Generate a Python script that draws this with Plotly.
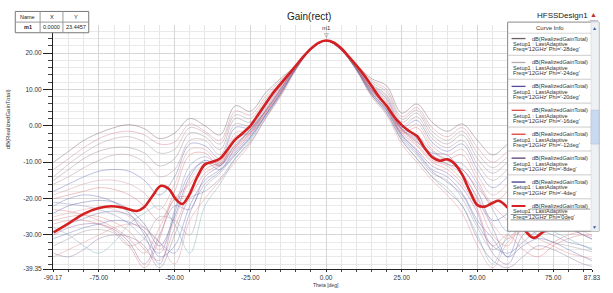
import plotly.graph_objects as go

# ---------------- data ----------------
theta = [-90, -85, -80, -75, -70, -65, -60, -55, -50, -45, -40, -35, -30, -25, -20, -15, -10, -5, 0,
         5, 10, 15, 20, 25, 30, 35, 40, 45, 50, 55, 60, 65, 70, 75, 80, 85, 90]

# highlighted curve Phi = 0deg
red_theta = [-90, -85, -80, -75, -71, -67, -62.5, -60, -57.5, -54.5, -52, -49.5, -47.5, -45.5, -42.5, -40,
             -37.5, -35, -32.5, -30, -27.5, -25, -22.5, -20, -17.5, -15, -12.5, -10, -7.5, -5, -2.5, 0,
             2.5, 5, 7.5, 10, 12.5, 15, 17.5, 20, 22.5, 25, 27.5, 30, 32.5, 35, 37.5, 40, 42.5, 45, 47.5,
             50, 52.5, 55, 57, 60, 62.5, 65, 68.5, 72, 80, 87.83]
red_gain = [-29.3, -26.8, -24.2, -22.6, -22.1, -22.5, -23.4, -22.3, -19.5, -16.5, -17.3, -20.3, -21.5, -19.5,
            -14.0, -10.6, -9.9, -9.0, -6.5, -3.8, -2.0, 0.0, 3.0, 6.0, 9.0, 11.5, 14.0, 16.5, 19.0, 21.2,
            22.8, 23.45, 22.9, 21.3, 19.0, 16.6, 14.0, 11.0, 8.0, 5.5, 2.5, 0.2, -1.5, -2.8, -6.0, -8.6,
            -9.6, -9.2, -10.5, -13.5, -18.0, -21.8, -22.2, -21.2, -20.6, -22.5, -25.0, -28.0, -30.8, -29.0,
            -26.0, -25.0]

bg_01 = [-10, -7, -4, -2, -0.5, 0.3, -0.8, -3.5, -2, 2, 0, -2.5, 5.5, 4, 9, 13, 16.5, 21, 23.4, 21.3, 16.8, 13, 11, 3.5, 6, 1, -1.5, 0.5, -4, -8, -5, -2, -1, -2, -3, -5, -7]
bg_02 = [-12, -9, -6, -3.5, -2, -1.5, -2.5, -5, -4.5, 0.5, -1.5, -4, 4, 3, 8, 12.5, 16.3, 21, 23.4, 21.2, 16.5, 12.5, 10, 2.5, 5, -0.5, -3, -0.5, -6, -10, -7, -4, -3, -4, -5, -7, -9]
bg_03 = [-15, -12, -9, -7, -6, -6, -7.5, -11, -9, -2, -3, -6.5, 2, 1, 6.5, 11.5, 16, 21, 23.4, 21.1, 16.3, 11.5, 8.5, 1, 3.5, -2.5, -5, -2.5, -9, -13, -10, -7, -6, -7, -8, -10, -12]
bg_04 = [-18, -16, -14, -12.5, -12, -12.5, -15, -19, -14, -5, -5.5, -9, -0.5, -0.5, 5.5, 11, 16, 21, 23.4, 21.1, 16.2, 11, 7.5, -0.5, 1.5, -4.5, -7, -5, -12, -17, -14, -10, -9, -10, -11, -13, -15]
bg_05 = [-20, -19, -18, -17, -17.5, -19, -22, -26, -18, -8, -7.5, -11, -3, -2, 4.5, 10.5, 16, 21, 23.4, 21, 16, 10.5, 6.5, -2, -0.5, -6.5, -9, -8, -15, -21, -18, -13, -12, -13, -14, -16, -18]
bg_06 = [-24, -22, -21, -20.5, -21, -23, -27, -33, -25, -14, -9.5, -11, -5, -1.5, 4, 10, 16, 21, 23.4, 21, 15.8, 10, 5.5, -1, -3.5, -8, -10.5, -12, -18, -26, -24, -19, -17, -18, -20, -22, -24]
bg_07 = [-26, -25, -24.5, -25, -26.5, -29, -34, -37, -28, -18, -12, -10, -6, -2, 3.5, 9.5, 15.8, 21, 23.4, 21, 15.7, 9.5, 5, -1.5, -5, -9.5, -11, -15, -21, -30, -33, -25, -22, -23, -25, -27, -29]
bg_08 = [-30, -28, -27, -27, -28.5, -32, -38, -30, -22, -23, -14, -11, -7, -2.5, 3, 9, 15.7, 21, 23.4, 20.9, 15.6, 9, 4.5, -2.5, -6.5, -11, -13, -17, -24, -35, -38, -30, -27, -27, -28, -30, -32]
bg_09 = [-33, -31, -29, -28.5, -29.5, -33, -31, -25, -26, -30, -17, -13, -8, -3.5, 2.5, 8.5, 15.5, 21, 23.4, 20.8, 15.5, 8.5, 4, -3.5, -8, -13, -15, -20, -28, -34, -31, -28, -30, -32, -33, -34, -35]
bg_10 = [-36, -34, -32, -30, -28, -27, -28, -32, -38, -26, -20, -15, -10, -5, 2, 8, 15.3, 20.9, 23.4, 20.8, 15.3, 8, 3, -5, -10, -15, -19, -24, -33, -39, -32, -29, -31, -33, -35, -36, -37]
bg_11 = [-22, -20, -19, -19.5, -21, -24, -30, -38, -24, -13, -10, -12, -6, -1, 4, 10, 16, 21, 23.4, 21, 15.9, 9.8, 5.5, -1, -4.5, -7.5, -8, -13, -20, -28, -36, -27, -25, -26, -28, -30, -32]
bg_12 = [-16, -14, -11.5, -9.5, -8, -8, -10, -14, -12, -4, -4, -8, 0.5, 0, 6, 11.3, 16.2, 21, 23.4, 21.1, 16.2, 11.3, 8, 0, 2.5, -3.5, -6, -4, -10.5, -15, -12, -8.5, -7.5, -8.5, -9.5, -11.5, -13.5]
bg_13 = [-28, -30, -33, -35, -32, -27, -24, -22, -27, -35, -22, -16, -9, -4, 2.8, 8.8, 15.5, 21, 23.4, 20.8, 15.4, 8.5, 3.5, -4, -9, -14, -17, -22, -30, -38, -30, -26, -27, -29, -31, -33, -34]
bg_14 = [-23, -23.5, -24.5, -26, -28, -31, -35, -28, -20, -16, -11, -9.5, -5.5, -1, 4, 10, 16, 21, 23.4, 21, 16, 10, 5, -1, -4, -8.5, -9.5, -12, -17, -22, -26, -31, -34, -32, -30, -29, -29]
bg_15 = [-31, -29.5, -28, -27, -26, -26.5, -29, -36, -33, -22, -15, -12, -7.5, -3, 3, 9.2, 15.8, 21, 23.4, 21, 15.7, 9.2, 4.5, -2.5, -7, -12, -14, -18.5, -26, -31, -36, -33, -31, -32, -34, -36, -38]
bg_16 = [-19, -17.5, -16, -15, -15, -16, -18.5, -23, -16, -6.5, -6.5, -10, -2, -1, 5, 10.8, 16, 21, 23.4, 21, 16, 10.8, 7, -1.5, 0.5, -5.5, -8, -6.5, -13.5, -19, -16, -12, -11, -12, -13, -15, -17]
bg_17 = [-35, -36, -34, -31, -30, -30.5, -33, -39, -30, -20, -18, -14.5, -9, -4.5, 2, 8.5, 15.5, 20.9, 23.4, 20.8, 15.4, 8.5, 3.5, -4, -9, -14, -18, -22, -31, -37, -39, -36, -33, -34, -36, -38, -39]
bg_18 = [-27, -26, -26, -27, -29, -33, -39, -31, -20, -19, -13, -10.5, -6.5, -2, 3.5, 9.5, 15.8, 21, 23.4, 21, 15.8, 9.7, 5, -2, -5.5, -10, -12, -16, -23, -33, -30, -34, -36, -33, -31, -30, -31]
bg_19 = [-21, -21.5, -22, -23, -24.5, -27, -31, -35, -23, -11, -8.5, -10.5, -4, -1.2, 4.2, 10.2, 16, 21, 23.4, 21, 15.9, 10, 5.8, -0.8, -2.5, -7, -9.5, -10.5, -16, -23, -29, -24, -21, -22, -24, -26, -28]
bg_20 = [-25, -24, -23, -22.5, -23, -25, -29, -34, -26, -15, -10.5, -10.5, -5.5, -1.8, 3.8, 9.8, 15.9, 21, 23.4, 21, 15.8, 9.8, 5.2, -1.2, -4.2, -9, -10.5, -13.5, -19.5, -27, -31, -27, -24, -25, -27, -29, -31]
bg_21 = [-29, -27, -25.5, -24, -23.5, -24.5, -28, -32, -35, -24, -16, -12.5, -8, -3.2, 2.8, 9, 15.7, 21, 23.4, 20.9, 15.6, 9, 4.2, -3, -7.5, -12.5, -15.5, -19, -27, -33, -35, -32, -29, -30, -32, -33, -35]
bg_22 = [-14, -10.5, -7.5, -5, -3.5, -3, -4.5, -7.5, -6.5, -0.5, -2, -5, 3, 2, 7.2, 12, 16.3, 21, 23.4, 21.2, 16.4, 12, 9.3, 1.8, 4.3, -1.5, -4, -1.5, -7.5, -11.5, -8.5, -5.5, -4.5, -5.5, -6.5, -8.5, -10.5]

bg_curves = [bg_01, bg_02, bg_03, bg_04, bg_05, bg_06, bg_07, bg_08, bg_09, bg_10, bg_11,
             bg_12, bg_13, bg_14, bg_15, bg_16, bg_17, bg_18, bg_19, bg_20, bg_21, bg_22]
bg_colors = ['rgba(125,100,115,0.5)', 'rgba(205,120,130,0.45)', 'rgba(140,125,140,0.45)',
             'rgba(95,100,175,0.45)', 'rgba(215,110,120,0.45)', 'rgba(80,85,160,0.45)',
             'rgba(220,120,125,0.45)', 'rgba(130,90,150,0.45)', 'rgba(150,140,150,0.45)',
             'rgba(225,130,135,0.45)', 'rgba(100,105,180,0.45)', 'rgba(170,130,140,0.45)',
             'rgba(90,160,170,0.4)', 'rgba(215,115,125,0.45)', 'rgba(95,105,180,0.45)',
             'rgba(205,140,150,0.45)', 'rgba(130,110,150,0.45)', 'rgba(220,110,120,0.45)',
             'rgba(110,115,170,0.4)', 'rgba(225,135,140,0.4)', 'rgba(90,95,170,0.4)',
             'rgba(160,135,145,0.45)']

x_tickvals = [-90.17, -75, -50, -25, 0, 25, 50, 75, 87.83]
x_ticktext = ['-90.17', '-75.00', '-50.00', '-25.00', '0.00', '25.00', '50.00', '75.00', '87.83']
y_tickvals = [-39.35, -30, -20, -10, 0, 10, 20]
y_ticktext = ['-39.35', '-30.00', '-20.00', '-10.00', '0.00', '10.00', '20.00']

legend_phis = ['-28', '-24', '-20', '-16', '-12', '-8', '-4', '0']
legend_colors = ['#6e5e62', '#b3abb0', '#5b4a9a', '#e04848', '#e03a3a', '#5a4070', '#3a3f8a', '#d42020']

marker_name = 'm1'
marker_x = 0.0
marker_y = 23.4457

# ---------------- figure ----------------
FONT = 'Liberation Sans, Arial, sans-serif'
L, R, T, B = 53, 596, 25, 277
W, H = 613, 293


def PX(x):
    return (x - L) / (R - L)


def PY(y):
    return (B - y) / (B - T)


fig = go.Figure()
for g, c in zip(bg_curves, bg_colors):
    fig.add_trace(go.Scatter(x=theta, y=g, mode='lines', line=dict(color=c, width=0.9, shape='spline'),
                             hoverinfo='skip'))
fig.add_trace(go.Scatter(x=red_theta, y=red_gain, mode='lines',
                         line=dict(color='#d42020', width=2.6, shape='spline'), hoverinfo='skip'))

ann = []
shapes = []


def text(x, y, s, size=6, color='#222', xanchor='center', yanchor='middle', angle=0):
    ann.append(dict(x=PX(x), y=PY(y), xref='paper', yref='paper', text=s, showarrow=False,
                    font=dict(family=FONT, size=size, color=color), xanchor=xanchor, yanchor=yanchor,
                    textangle=angle))


def rect(x0, y0, x1, y1, fill='white', line='#888', lw=1):
    shapes.append(dict(type='rect', xref='paper', yref='paper', x0=PX(x0), x1=PX(x1), y0=PY(y0), y1=PY(y1),
                       fillcolor=fill, line=dict(color=line, width=lw), layer='above'))


def hline(x0, x1, y, color='#999', lw=1):
    shapes.append(dict(type='line', xref='paper', yref='paper', x0=PX(x0), x1=PX(x1), y0=PY(y), y1=PY(y),
                       line=dict(color=color, width=lw), layer='above'))


def vline(x, y0, y1, color='#999', lw=1):
    shapes.append(dict(type='line', xref='paper', yref='paper', x0=PX(x), x1=PX(x), y0=PY(y0), y1=PY(y1),
                       line=dict(color=color, width=lw), layer='above'))


# marker m1
ann.append(dict(x=marker_x, y=marker_y, xref='x', yref='y', text='▽', showarrow=False, yshift=6,
                font=dict(family='DejaVu Sans', size=6, color='#555')))
ann.append(dict(x=marker_x, y=marker_y, xref='x', yref='y', text=marker_name, showarrow=False, yshift=12,
                font=dict(family=FONT, size=6, color='#333')))

# title & labels
text(311, 16, 'Gain(rect)', size=10, color='#222')
text(566, 15, 'HFSSDesign1', size=8, color='#222')
text(598, 14, '▲', size=7, color='#c03030')
text(598, 20, 'ANSOFT', size=2.5, color='#666')
text(8, 122, 'dB(RealizedGainTotal)', size=6, color='#333', angle=-90)
text(328, 288.5, 'Theta [deg]', size=5, color='#333', yanchor='top')

# marker table
rect(15, 11, 89, 33, fill='white', line='#777')
hline(15, 89, 22, color='#999')
vline(40, 11, 33, color='#999')
vline(63, 11, 33, color='#999')
text(27.5, 16.5, 'Name', size=5.5)
text(51.5, 16.5, 'X', size=5.5)
text(76, 16.5, 'Y', size=5.5)
text(27.5, 27.5, '<b>' + marker_name + '</b>', size=5.5)
text(51.5, 27.5, '%.4f' % marker_x, size=5.5)
text(76, 27.5, '%.4f' % marker_y, size=5.5)

# curve info legend
rect(511, 22, 603, 238, fill='white', line='#8a8a8a')
rect(595, 22, 603, 238, fill='#eef0f4', line='#c8ccd4', lw=0.5)
rect(595, 113, 603, 148, fill='#c9d9ee', line='#a9bcd8', lw=0.5)
text(599, 28, '▲', size=5, color='#3060b0')
text(599, 234, '▼', size=5, color='#3060b0')
text(554, 28.5, 'Curve Info', size=6, color='#333')
hline(511, 595, 33.5, color='#bbb', lw=0.6)
for i, (ph, col) in enumerate(zip(legend_phis, legend_colors)):
    yl = 39 + 24.7 * i
    lw = 2 if i == len(legend_phis) - 1 else 1.3
    hline(515, 529, yl, color=col, lw=lw)
    text(594, yl, 'dB(RealizedGainTotal)', size=5.6, color='#333', xanchor='right')
    text(514, yl + 5.6, 'Setup1 : LastAdaptive', size=5.6, color='#333', xanchor='left')
    text(514, yl + 11.2, "Freq='12GHz' Phi='" + ph + "deg'", size=5.6, color='#333', xanchor='left')
    if i < len(legend_phis) - 1:
        hline(511, 595, yl + 17.3, color='#aaa', lw=0.6)
    else:
        hline(533, 594, yl + 3.2, color='#333', lw=0.5)
        hline(514, 571, yl + 8.8, color='#333', lw=0.5)
        hline(514, 574, yl + 14.4, color='#333', lw=0.5)

fig.update_layout(
    width=W, height=H,
    margin=dict(l=L, r=W - R, t=T, b=H - B),
    paper_bgcolor='white', plot_bgcolor='white',
    showlegend=False,
    annotations=ann, shapes=shapes,
    xaxis=dict(range=[-90.17, 87.83], tickmode='array', tickvals=x_tickvals, ticktext=x_ticktext,
               ticks='outside', ticklen=2, tickcolor='#222', tickwidth=1, ticklabeloverflow='allow',
               showline=True, linecolor='#222', linewidth=1, zeroline=False,
               showgrid=True, gridcolor='#d6d6d6', gridwidth=1,
               minor=dict(tick0=0, dtick=5, ticks='outside', ticklen=2, tickcolor='#444',
                          showgrid=True, gridcolor='#e6e6e6', gridwidth=1),
               tickfont=dict(family=FONT, size=6.5, color='#333')),
    yaxis=dict(range=[-39.35, 27.7], tickmode='array', tickvals=y_tickvals, ticktext=y_ticktext,
               ticks='outside', ticklen=9, tickcolor='#222', tickwidth=1,
               showline=True, linecolor='#222', linewidth=1, zeroline=False,
               showgrid=True, gridcolor='#d6d6d6', gridwidth=1,
               minor=dict(tick0=0, dtick=2, ticks='outside', ticklen=4, tickcolor='#444',
                          showgrid=True, gridcolor='#e9e9e9', gridwidth=1),
               tickfont=dict(family=FONT, size=6.5, color='#333')),
)

fig.write_html('out.html', config={'displayModeBar': False},
               post_script="document.body.style.margin='0px';document.body.style.overflow='hidden';")
